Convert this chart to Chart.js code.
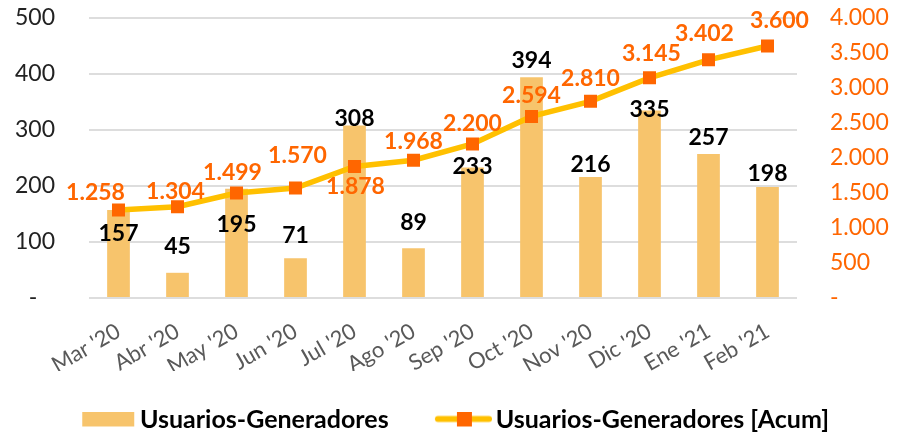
<!DOCTYPE html>
<html>
<head>
<meta charset="utf-8">
<script src="https://cdn.jsdelivr.net/npm/chart.js@4.4.0/dist/chart.umd.min.js"></script>
<style>
  html, body { margin: 0; padding: 0; background: #fff; }
  #wrap { width: 898px; height: 432px; }
</style>
</head>
<body>
<div id="wrap"><canvas id="usersChart"></canvas></div>
<script>
// monthly users-generators and running total
const months = ["Mar '20", "Abr '20", "May '20", "Jun '20", "Jul '20", "Ago '20",
                "Sep '20", "Oct '20", "Nov '20", "Dic '20", "Ene '21", "Feb '21"];
const monthly = [157, 45, 195, 71, 308, 89, 233, 394, 216, 335, 257, 198];
const cumulative = [1258, 1304, 1499, 1570, 1878, 1968, 2200, 2594, 2810, 3145, 3402, 3600];

// manual label nudges (px) like in the original sheet
const barLabelDy = [23, -26, 36, -23, -7, -26, -1, -17, -12, -1, -17, -14];
const lineLabelDx = [-23, -2, -4, 2, 1, 0, 0, 0, 0, 2, -4, 12];
const lineLabelDy = [-17, -15, -20, -33, 20, -19, -20, -21, -23, -24, -26, -25];

const barColor = "#F7C46C";
const lineColor = "#FFC000";
const orange = "#FF6600";
const font = "Lato";

// 1.234 style numbers, "-" for zero
function dots(v) {
  if (v === 0) return "-";
  return String(v).replace(/\B(?=(\d{3})+(?!\d))/g, ".");
}

// legend icons, 76px wide, centred on the legend box
function swatch(draw) {
  const c = document.createElement("canvas");
  c.width = 76;
  c.height = 16;
  draw(c.getContext("2d"));
  return c;
}
const barIcon = swatch(g => {
  g.fillStyle = barColor;
  g.fillRect(22, 0, 52, 15);
});
const lineIcon = swatch(g => {
  g.strokeStyle = lineColor;
  g.lineWidth = 6;
  g.lineCap = "round";
  g.beginPath();
  g.moveTo(22, 7.5);
  g.lineTo(73, 7.5);
  g.stroke();
  g.fillStyle = orange;
  g.fillRect(41, 0, 15, 15);
});

const valueLabels = {
  id: "valueLabels",
  afterDatasetsDraw(chart) {
    const ctx = chart.ctx;
    ctx.save();
    ctx.textAlign = "center";
    ctx.textBaseline = "middle";
    ctx.font = "bold 23px " + font;

    ctx.fillStyle = "#000";
    chart.getDatasetMeta(0).data.forEach((bar, i) => {
      ctx.fillText(monthly[i], bar.x, bar.y + barLabelDy[i]);
    });

    ctx.fillStyle = orange;
    chart.getDatasetMeta(1).data.forEach((pt, i) => {
      ctx.fillText(dots(cumulative[i]), pt.x + lineLabelDx[i], pt.y + lineLabelDy[i]);
    });
    ctx.restore();
  }
};

// fixed axis widths, and keep the tick padding from pushing the plot down
function sideAxis(width) {
  return s => {
    s.width = width;
    s.paddingTop = 18;
    s.paddingBottom = 10;
  };
}

new Chart(document.getElementById("usersChart"), {
  type: "bar",
  data: {
    labels: months,
    datasets: [
      {
        type: "bar",
        label: "Usuarios-Generadores",
        data: monthly,
        backgroundColor: barColor,
        barPercentage: 0.385,
        categoryPercentage: 1.0,
        yAxisID: "y",
        order: 2
      },
      {
        type: "line",
        label: "Usuarios-Generadores [Acum]",
        data: cumulative,
        borderColor: lineColor,
        borderWidth: 5.5,
        tension: 0,
        pointStyle: "rect",
        pointRadius: 9.2,
        pointBorderWidth: 0,
        pointBackgroundColor: orange,
        yAxisID: "y2",
        order: 1
      }
    ]
  },
  options: {
    responsive: true,
    maintainAspectRatio: false,
    animation: false,
    layout: { padding: { top: 0, left: 0, right: 0, bottom: -10 } },
    plugins: {
      tooltip: { enabled: false },
      legend: {
        position: "bottom",
        labels: {
          usePointStyle: true,
          pointStyleWidth: 58.5,
          padding: 36,
          color: "#000",
          font: { family: font, size: 25, weight: "bold" },
          generateLabels: () => [
            { text: "Usuarios-Generadores", pointStyle: barIcon, fillStyle: barColor,
              strokeStyle: barColor, lineWidth: 0, hidden: false, datasetIndex: 0 },
            { text: "Usuarios-Generadores [Acum]", pointStyle: lineIcon, fillStyle: orange,
              strokeStyle: orange, lineWidth: 0, hidden: false, datasetIndex: 1 }
          ]
        }
      }
    },
    scales: {
      x: {
        grid: { display: false },
        border: { display: false },
        ticks: {
          color: "#595959",
          font: { family: font, size: 22 },
          minRotation: 30,
          maxRotation: 30,
          padding: 12
        },
        afterFit: s => { s.height = 73; }
      },
      y: {
        position: "left",
        min: 0,
        max: 500,
        border: { display: false },
        grid: { color: "#DDDDDD", lineWidth: 2, drawTicks: false },
        ticks: {
          stepSize: 100,
          padding: 34,
          color: "#222",
          font: { family: font, size: 23 },
          callback: v => (v === 0 ? "-   " : v)
        },
        afterFit: sideAxis(89)
      },
      y2: {
        position: "right",
        min: 0,
        max: 4000,
        border: { display: false },
        grid: { drawOnChartArea: false, drawTicks: false },
        ticks: {
          stepSize: 500,
          padding: 33,
          color: orange,
          font: { family: font, size: 23 },
          callback: v => dots(v)
        },
        afterFit: sideAxis(101)
      }
    }
  },
  plugins: [valueLabels]
});
</script>
</body>
</html>
